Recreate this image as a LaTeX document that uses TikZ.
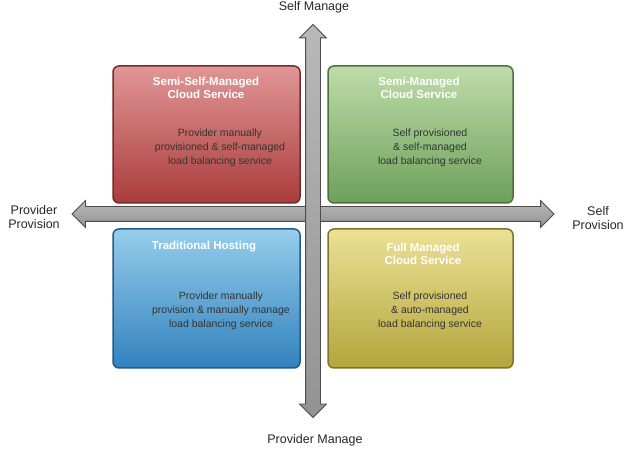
\documentclass[tikz,border=0pt]{standalone}
\usepackage{fontspec}
\setmainfont{Liberation Sans}
\usetikzlibrary{shapes.arrows}
\definecolor{rT}{RGB}{225,150,150}\definecolor{rB}{RGB}{170,60,60}
\definecolor{gT}{RGB}{190,220,170}\definecolor{gB}{RGB}{110,160,90}
\definecolor{bT}{RGB}{150,205,235}\definecolor{bB}{RGB}{50,130,190}
\definecolor{yT}{RGB}{235,225,150}\definecolor{yB}{RGB}{180,165,60}
\begin{document}
\begin{tikzpicture}[x=1pt,y=-1pt,
  quad/.style={rounded corners=6pt, line width=1.5pt},
  ttl/.style={text=white, font=\bfseries\fontsize{11.5}{12.5}\selectfont, align=center},
  body/.style={text=black!80, font=\fontsize{10.5}{14}\selectfont, align=center},
  axis/.style={double arrow, draw=black!70, line width=0.8pt, inner sep=7pt, double arrow head extend=6pt, top color=gray!55, bottom color=gray!85},
  lbl/.style={font=\fontsize{12.5}{14}\selectfont, align=center, text=black!85}]
\useasboundingbox (0,0) rectangle (625,449);
\path[quad, draw=rB!70!black, top color=rT, bottom color=rB] (113,66) rectangle (300,203);
\path[quad, draw=gB!70!black, top color=gT, bottom color=gB] (328,66) rectangle (513,203);
\path[quad, draw=bB!70!black, top color=bT, bottom color=bB] (113,229) rectangle (300,368);
\path[quad, draw=yB!70!black, top color=yT, bottom color=yB] (328,229) rectangle (513,368);
\node[ttl] (t1) at (206,88) {Semi-Self-Managed\\Cloud Service};
\node[body] (b1) at (220,148) {Provider manually\\provisioned \& self-managed\\load balancing service};
\node[ttl] (t2) at (419,88) {Semi-Managed\\Cloud Service};
\node[body] (b2) at (430,148) {Self provisioned\\\& self-managed\\load balancing service};
\node[ttl] (t3) at (204,247) {Traditional Hosting};
\node[body] (b3) at (221,311) {Provider manually\\provision \& manually manage\\load balancing service};
\node[ttl] (t4) at (423,254) {Full Managed\\Cloud Service};
\node[body] (b4) at (430,311) {Self provisioned\\\& auto-managed\\load balancing service};
\node[axis, minimum height=482pt] (h) at (313,214) {};
\node[axis, minimum height=393pt, rotate=90] (v) at (313,221) {};
\node[lbl] (n) at (314,7) {Self Manage};
\node[lbl] (s) at (315,440) {Provider Manage};
\node[lbl] (w) at (34,217) {Provider\\Provision};
\node[lbl] (e) at (598,218) {Self\\Provision};
\end{tikzpicture}
\end{document}
